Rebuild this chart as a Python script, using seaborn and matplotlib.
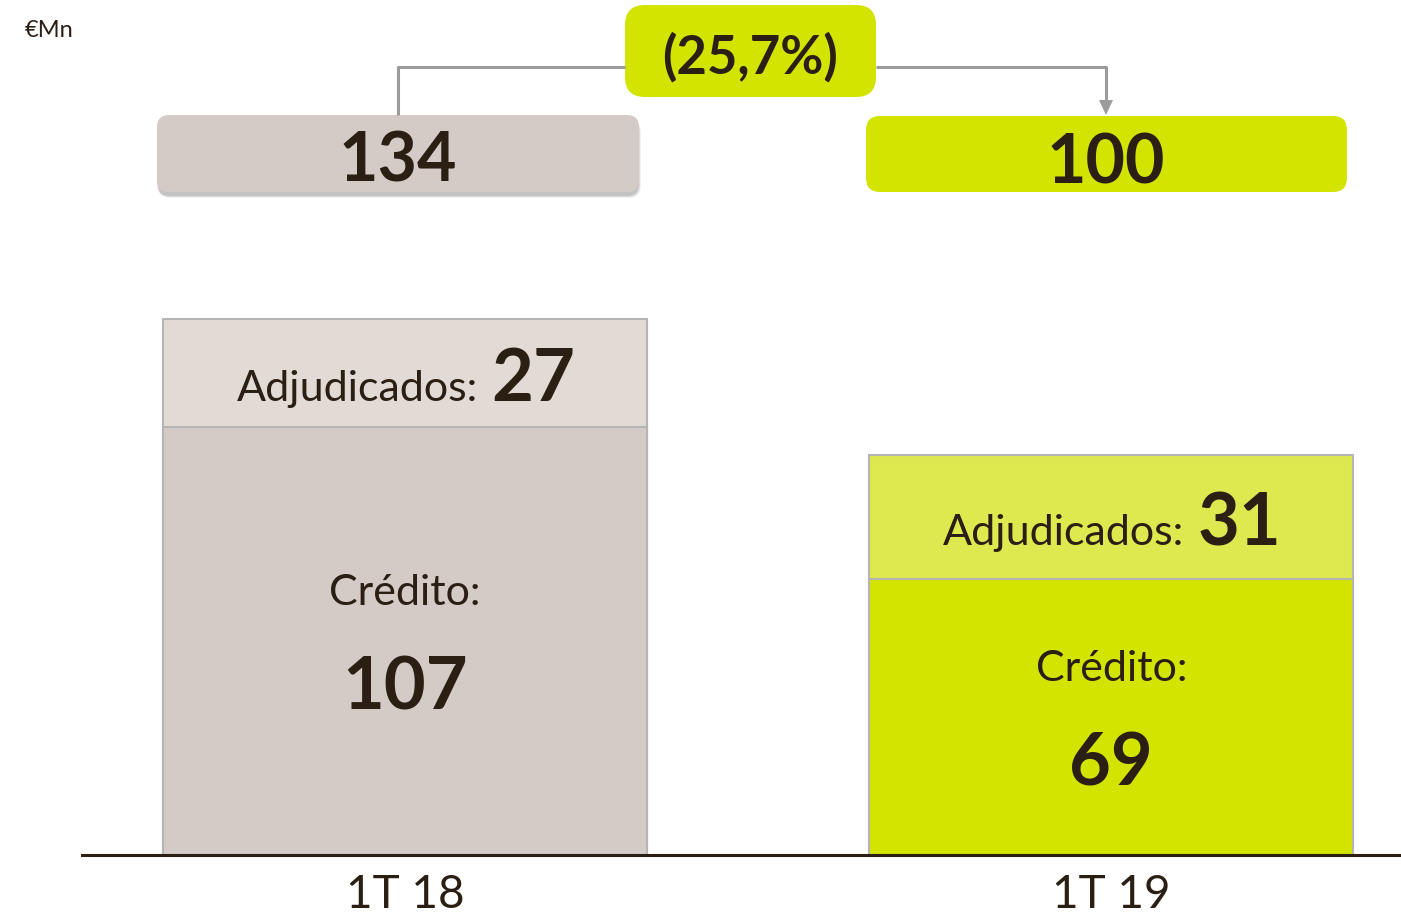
import matplotlib
matplotlib.use("Agg")
import matplotlib.pyplot as plt
import seaborn as sns
import pandas as pd
from matplotlib.patches import FancyBboxPatch, Polygon

# Data (€Mn)
quarters = ["1T 18", "1T 19"]
credito = [107, 69]
adjudicados = [27, 31]
totales = [134, 100]
variacion = "(25,7%)"
unit_label = "€Mn"

# Palette
credit_colors = ["#d5cbc6", "#d2e400"]
adjud_colors = ["#e2dad5", "#dde94f"]
ink = "#2b1f14"
edge = "#b5b5b5"
connector = "#9b9b9b"

sns.set_theme(style="white")
plt.rcParams["font.family"] = ["Lato", "DejaVu Sans"]

W, H = 1401, 917
fig = plt.figure(figsize=(W / 100, H / 100), dpi=100)
ax = fig.add_axes([82 / W, 1 - 855 / H, (W - 82) / W, 855 / H])

df = pd.DataFrame({"trimestre": quarters, "credito": credito,
                   "adjudicados": adjudicados})
df["total"] = df["credito"] + df["adjudicados"]

# Stacked bars: full height in the "adjudicados" tone, credit part drawn over it
sns.barplot(data=df, x="trimestre", y="total", hue="trimestre", order=quarters,
            hue_order=quarters, palette=adjud_colors, saturation=1, width=0.685,
            edgecolor=edge, linewidth=1.5, errorbar=None, legend=False, ax=ax)
sns.barplot(data=df, x="trimestre", y="credito", hue="trimestre", order=quarters,
            hue_order=quarters, palette=credit_colors, saturation=1, width=0.685,
            edgecolor=edge, linewidth=1.5, errorbar=None, legend=False, ax=ax)

ax.set_xlim(-0.457, 1.41)
ax.set_ylim(0, 855 / 4.0)
ax.set_xlabel("")
ax.set_ylabel("")
ax.set_yticks([])
for side in ["top", "right", "left"]:
    ax.spines[side].set_visible(False)
ax.spines["bottom"].set_color(ink)
ax.spines["bottom"].set_linewidth(2.2)
ax.tick_params(axis="x", length=0, pad=14, labelsize=33, labelcolor=ink)
ax.set_facecolor("none")

# Segment labels
for i in range(len(quarters)):
    c, a = credito[i], adjudicados[i]
    ax.annotate("Crédito:", (i, c / 2), xytext=(0, 36), textcoords="offset pixels",
                ha="center", va="baseline", fontsize=31, color=ink)
    ax.annotate(f"{c}", (i, c / 2), xytext=(0, -69), textcoords="offset pixels",
                ha="center", va="baseline", fontsize=52, fontweight="bold", color=ink)
    ymid = c + a / 2
    ax.annotate("Adjudicados:", (i, ymid), xytext=(73, -28), textcoords="offset pixels",
                ha="right", va="baseline", fontsize=31, color=ink)
    ax.annotate(f"{a}", (i, ymid), xytext=(86, -28), textcoords="offset pixels",
                ha="left", va="baseline", fontsize=52, fontweight="bold", color=ink)

# Overlay in pixel units for the totals and the change callout
ov = fig.add_axes([0, 0, 1, 1], zorder=5)
ov.set_xlim(0, W)
ov.set_ylim(H, 0)
ov.axis("off")
ov.patch.set_visible(False)

# soft shadow under the first total box
for k, al in enumerate([0.12, 0.2, 0.3]):
    ov.add_patch(FancyBboxPatch((157 + 2 - k, 115 + 6 - k), 482, 77,
                                boxstyle="round,pad=0,rounding_size=12",
                                facecolor="#8c8c8c", edgecolor="none", alpha=al))
ov.add_patch(FancyBboxPatch((157, 115), 482, 77, boxstyle="round,pad=0,rounding_size=12",
                            facecolor=credit_colors[0], edgecolor="none"))
ov.add_patch(FancyBboxPatch((866, 116), 481, 76, boxstyle="round,pad=0,rounding_size=14",
                            facecolor=credit_colors[1], edgecolor="none"))
ov.text(398, 182, f"{totales[0]}", ha="center", va="baseline", fontsize=49,
        fontweight="bold", color=ink)
ov.text(1106, 183, f"{totales[1]}", ha="center", va="baseline", fontsize=49,
        fontweight="bold", color=ink)

# change connector
ov.plot([398, 398, 625], [115, 67, 67], color=connector, lw=2.2, solid_capstyle="butt")
ov.plot([876, 1106, 1106], [67, 67, 101], color=connector, lw=2.2, solid_capstyle="butt")
ov.add_patch(Polygon([(1099, 100), (1113, 100), (1106, 115)], closed=True,
                     facecolor=connector, edgecolor="none"))
ov.add_patch(FancyBboxPatch((625, 5), 251, 92, boxstyle="round,pad=0,rounding_size=20",
                            facecolor=credit_colors[1], edgecolor="none"))
ov.text(750, 73, variacion, ha="center", va="baseline", fontsize=38,
        fontweight="bold", color=ink)

ov.text(25, 37, unit_label, ha="left", va="baseline", fontsize=17, color=ink)

fig.savefig("out.png", dpi=100)
